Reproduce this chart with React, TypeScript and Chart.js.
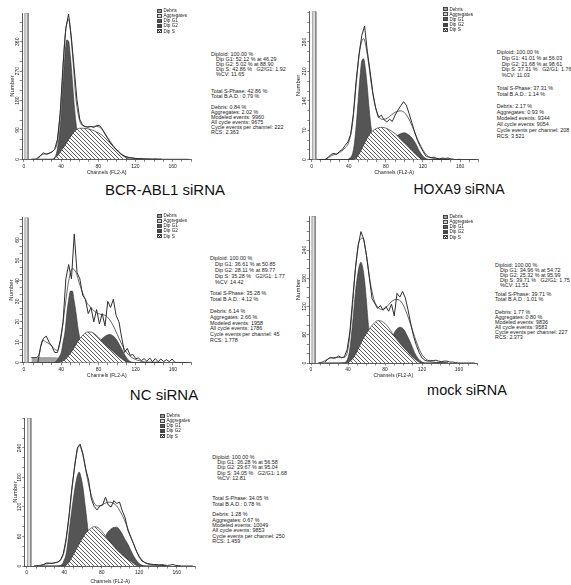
import React, { useEffect, useRef } from "react";
import { Chart, registerables } from "chart.js";
Chart.register(...registerables);

const FONT = "'Liberation Sans', Arial, Helvetica, sans-serif";

// ---------- shared channel grids / tick labels ----------
const histChannels = [15,18,21,24,27,30,33,36,39,42,45,48,51,54,57,60,63,66,69,72,75,78,81,84,87,90,93,96,99,102,105,108,111,114,117,120,123,126,129,132,135,138,141,144,147,150,153,156,159,162,165,168,171,174,177];
const compChannels = [8,12,16,20,24,28,32,36,40,44,48,52,56,60,64,68,72,76,80,84,88,92,96,100,104,108,112,116,120,124,128,132,136,140,144,148];
const g1Channels = [32,34,36,38,40,42,44,46,48,50,52,54,56,58,60,62,64,66,68,70,72];
const xTickLabels = [0, 40, 80, 120, 160];
const gateRange = [1, 4.5];
const legendItems = ["Debris", "Aggregates", "Dip G1", "Dip G2", "Dip S"];

// ---------- BCR-ABL1 siRNA ----------
const histBCR = [2,12,20,15,18,22,30,61,140,286, 400,445,375,280,184,123,105,100,98,101, 97,103,104,94,78,64,50,40,30,24, 15,10,7,5,4,3,2,2,1,1, 1,0,1,0,0,0,0,0,0,0, 0,0,0,0,0];
const modelBCR = [0,0,8,15,17,20,28,55,180,370, 428,330,185,118,102,100,100,101,100,92, 76,58,42,28,17,10,6,4,2,1, 1,0,0,0,0,0];
const sBCR = [0,0,0,0,0,0,2,10,26,42, 60,77,90,95,95,94,91,87,81,74, 63,51,40,28,17,8,2,0,0,0, 0,0,0,0,0,0];
const g2BCR = [0,0,0,0,0,0,0,0,0,0, 0,0,0,0,0,0,0,5,12,20, 24,22,15,8,3,1,0,0,0,0, 0,0,0,0,0,0];
const g1BCR = [3,10,32,74,135,230,315,365,362,315, 245,170,112,70,40,20,9,4,1,0, 0];
const yLabelsBCR = [0, 90, 180, 270, 360];

// ---------- HOXA9 siRNA ----------
const histHOX = [1,6,13,15,12,20,24,34,42,60, 110,190,250,295,318,258,210,158,123,100, 106,95,90,96,91,106,118,128,138,130, 110,88,66,46,32,20,9,6,5,6, 3,2,4,3,4,2,1,0,1,0, 0,0,0,0,0];
const modelHOX = [0,0,2,8,12,15,20,28,42,85, 180,262,288,250,185,132,104,96,97,103, 110,115,116,112,100,82,60,40,23,11, 5,3,2,2,1,1];
const sHOX = [0,0,0,0,0,0,0,0,0,0, 4,17,35,52,65,72,76,77,75,71, 65,58,48,40,31,22,13,5,0,0, 0,0,0,0,0,0];
const g2HOX = [0,0,0,0,0,0,0,0,0,0, 0,0,0,0,0,0,0,5,14,30, 45,57,62,64,60,52,39,21,8,2, 0,0,0,0,0,0];
const g1HOX = [0,0,0,0,2,6,14,38,82,139, 195,235,240,215,172,120,78,50,30,16, 8];
const yLabelsHOX = [0, 70, 140, 210, 280];

// ---------- NC siRNA ----------
const histNC = [0.3,8,12,13,10,8,5,5,11,20, 41,48,41,63,44,41,33,31,24,27, 20,26,19,24,18,30,27,31,23,20, 12,5,7,3.6,4,2,2.3,1,2,0.7, 2.3,0.5,2,0.5,1.8,0.5,1.5,0.5,1.8,0.2, 0,0,0,0,0];
const modelNC = [2.5,2.5,4,11,10,9,7,6,13,27, 40,46,44,38,33,29,27,25,24,23.5, 23,21,18,14,10,6.5,4,2.5,1.5,1, 0.5,0.3,0.3,0.3,0.2,0.2];
const sNC = [0,0,0,0,0,0,0,0,0.5,1.5, 3.5,6,9,11.8,13.8,15,15,14,12.5,10.5, 8.5,7,5.3,3.7,2.2,1,0.2,0,0,0, 0,0,0,0,0,0];
const g2NC = [0,0,0,0,0,0,0,0,0,0, 0,0,0,0,0,0,2,5,9.5,11.8, 13.2,13.8,13,10.8,7.5,4,1.3,0.2,0,0, 0,0,0,0,0,0];
const g1NC = [0,0.5,1.5,3,5,10,15,24,31,35, 35,30,24,17,12,8,5,3,1.5,0.5, 0];
const debrisNC = [2.5,2.5,2.5,2.5,2.5,2.5,2.5,2.3,1.8,1.2, 0.6,0.2,0,0,0,0,0,0,0,0, 0,0,0,0,0,0,0,0,0,0, 0,0,0,0,0,0];
const yLabelsNC = [0, 10, 20, 30, 40, 50, 60];

// ---------- mock siRNA ----------
const histMock = [2,8,12,10,11,15,11,13,28,66, 135,200,249,279,263,228,182,137,126,116, 122,112,120,110,125,100,148,140,152,138, 112,82,56,37,22,11,6,4,5,5, 6,4,3,4,4,2,2,1,0,0, 0,0,0,0,0];
const modelMock = [0,2,6,10,11,12,12,12,30,100, 200,258,265,228,172,135,119,114,116,124, 132,135,133,122,103,80,56,34,18,9, 4,2,1,1,0.5,0];
const sMock = [0,0,0,0,0,0,0,0,1,7, 18,34,50,63,75,84,90,89,84,75, 63,52,42,33,25,16,9,3,0,0, 0,0,0,0,0,0];
const g2Mock = [0,0,0,0,0,0,0,0,0,0, 0,0,0,0,0,0,6,14,25,40, 56,70,76,72,58,41,22,9,2,0, 0,0,0,0,0,0];
const g1Mock = [0,0,0,3,11,30,65,105,150,182, 205,214,202,174,130,82,50,28,14,6, 2];
const yLabelsMock = [0, 60, 120, 180, 240];

// ---------- bottom panel ----------
const histBot = [1,3,6,6,5,7,8,12,25,55, 100,156,200,240,248,228,197,175,136,121, 114,122,124,140,124,120,133,127,130,112, 98,72,58,45,30,18,10,7,5,4, 3,3,2,3,2,1,2,3,1,1, 0,0,0,0,0];
const modelBot = [0,1,2,4,5,6,7,12,30,80, 150,215,245,225,185,150,128,122,124,128, 130,128,122,110,95,75,55,35,20,10, 5,3,2,2,1,1];
const sBot = [0,0,0,0,0,0,0,0,0,5, 17,31,45,58,69,76,80,78,71,61, 51,42,33,26,19,13,8,2,0,0, 0,0,0,0,0,0];
const g2Bot = [0,0,0,0,0,0,0,0,0,0, 0,0,0,0,0,8,16,28,45,61, 72,78,79,71,57,44,28,14,5,1, 0,0,0,0,0,0];
const g1Bot = [0,0,1,4,12,24,50,82,112,140, 165,183,191,180,160,129,96,65,40,22, 10];
const yLabelsBot = [0, 60, 120, 180, 240];

// ---------- statistics texts ----------
const statsBCR = [
  ["Diploid: 100.00 %", "Dip G1: 52.12 % at 46.29", "Dip G2: 5.02 % at 88.90", "Dip S: 42.86 %   G2/G1: 1.92", "%CV: 11.65"],
  ["Total S-Phase: 42.86 %", "Total B.A.D.: 0.79 %"],
  ["Debris: 0.84 %", "Aggregates: 2.02 %", "Modeled events: 9960", "All cycle events: 9675", "Cycle events per channel: 222", "RCS: 2.363"],
];
const statsHOX = [
  ["Diploid: 100.00 %", "Dip G1: 41.01 % at 56.03", "Dip G2: 21.68 % at 98.61", "Dip S: 37.31 %   G2/G1: 1.76", "%CV: 11.03"],
  ["Total S-Phase: 37.31 %", "Total B.A.D.: 1.14 %"],
  ["Debris: 2.17 %", "Aggregates: 0.93 %", "Modeled events: 9344", "All cycle events: 9054", "Cycle events per channel: 208", "RCS: 3.521"],
];
const statsNC = [
  ["Diploid: 100.00 %", "Dip G1: 36.61 % at 50.85", "Dip G2: 28.11 % at 89.77", "Dip S: 35.28 %   G2/G1: 1.77", "%CV: 14.42"],
  ["Total S-Phase: 35.28 %", "Total B.A.D.: 4.12 %"],
  ["Debris: 6.14 %", "Aggregates: 2.66 %", "Modeled events: 1958", "All cycle events: 1786", "Cycle events per channel: 45", "RCS: 1.778"],
];
const statsMock = [
  ["Diploid: 100.00 %", "Dip G1: 34.96 % at 54.72", "Dip G2: 25.32 % at 95.99", "Dip S: 39.71 %   G2/G1: 1.75", "%CV: 11.51"],
  ["Total S-Phase: 39.71 %", "Total B.A.D.: 1.01 %"],
  ["Debris: 1.77 %", "Aggregates: 0.80 %", "Modeled events: 9836", "All cycle events: 9583", "Cycle events per channel: 227", "RCS: 2.373"],
];
const statsBot = [
  ["Diploid: 100.00 %", "Dip G1: 36.28 % at 56.58", "Dip G2: 29.67 % at 95.04", "Dip S: 34.05 %   G2/G1: 1.68", "%CV: 12.81"],
  ["Total S-Phase: 34.05 %", "Total B.A.D.: 0.78 %"],
  ["Debris: 1.28 %", "Aggregates: 0.67 %", "Modeled events: 10049", "All cycle events: 9853", "Cycle events per channel: 250", "RCS: 1.459"],
];

type PanelCfg = {
  left: number; top: number; width: number; height: number;
  padTop: number; padRight: number; yAxisWidth: number; xAxisHeight: number;
  yMax: number; yLabels: number[]; yTitlePad: number; yTickPad: number;
  hist: number[]; model: number[]; sPhase: number[]; g2: number[]; g1: number[]; debris: number[] | null;
  stats: string[][]; statsX: number; statsLH: number; statsTops: number[];
  legendX: number; legendY: number;
  title: string | null; titleX: number; titleY: number; titleSize: number;
};

const panels: PanelCfg[] = [
  { left: 0, top: 0, width: 200, height: 176, padTop: 13, padRight: 8.8, yAxisWidth: 22.1, xAxisHeight: 16.7,
    yMax: 448, yLabels: yLabelsBCR, yTitlePad: 8.4, yTickPad: -1.9,
    hist: histBCR, model: modelBCR, sPhase: sBCR, g2: g2BCR, g1: g1BCR, debris: null,
    stats: statsBCR, statsX: 211, statsLH: 5.0, statsTops: [54, 91.7, 107.7],
    legendX: 157, legendY: 10.7, title: "BCR-ABL1 siRNA", titleX: 165, titleY: 190, titleSize: 15 },
  { left: 290, top: 0, width: 200, height: 176, padTop: 11.3, padRight: 11.4, yAxisWidth: 19.85, xAxisHeight: 16.3,
    yMax: 353, yLabels: yLabelsHOX, yTitlePad: 4.7, yTickPad: -1.9,
    hist: histHOX, model: modelHOX, sPhase: sHOX, g2: g2HOX, g1: g1HOX, debris: null,
    stats: statsHOX, statsX: 496.7, statsLH: 5.9, statsTops: [52.7, 89.3, 107.3],
    legendX: 443, legendY: 9.3, title: "HOXA9 siRNA", titleX: 459, titleY: 189.5, titleSize: 14 },
  { left: 0, top: 200, width: 200, height: 179, padTop: 17.5, padRight: 8.4, yAxisWidth: 22.1, xAxisHeight: 16.3,
    yMax: 71, yLabels: yLabelsNC, yTitlePad: 8.1, yTickPad: -0.5,
    hist: histNC, model: modelNC, sPhase: sNC, g2: g2NC, g1: g1NC, debris: debrisNC,
    stats: statsNC, statsX: 210, statsLH: 5.9, statsTops: [259.3, 294.3, 311.7],
    legendX: 157, legendY: 215.7, title: "NC siRNA", titleX: 164, titleY: 395, titleSize: 15 },
  { left: 290, top: 200, width: 200, height: 179, padTop: 16.1, padRight: 12.5, yAxisWidth: 19.15, xAxisHeight: 16,
    yMax: 312, yLabels: yLabelsMock, yTitlePad: 4.7, yTickPad: -1.9,
    hist: histMock, model: modelMock, sPhase: sMock, g2: g2Mock, g1: g1Mock, debris: null,
    stats: statsMock, statsX: 495, statsLH: 5.0, statsTops: [265.7, 294.3, 312.3],
    legendX: 443, legendY: 216.7, title: "mock siRNA", titleX: 467, titleY: 391, titleSize: 14.5 },
  { left: 0, top: 400, width: 205, height: 185, padTop: 18, padRight: 9.5, yAxisWidth: 24.8, xAxisHeight: 19,
    yMax: 301, yLabels: yLabelsBot, yTitlePad: 11.4, yTickPad: -1.9,
    hist: histBot, model: modelBot, sPhase: sBot, g2: g2Bot, g1: g1Bot, debris: null,
    stats: statsBot, statsX: 212.3, statsLH: 5.3, statsTops: [457.3, 499, 515],
    legendX: 160, legendY: 415.7, title: null, titleX: 0, titleY: 0, titleSize: 15 },
];

function makeHatch(): CanvasPattern | string {
  const c = document.createElement("canvas");
  c.width = 4; c.height = 4;
  const ctx = c.getContext("2d");
  if (!ctx) return "#fff";
  ctx.fillStyle = "#fff";
  ctx.fillRect(0, 0, 4, 4);
  ctx.strokeStyle = "#333";
  ctx.lineWidth = 0.8;
  ctx.beginPath();
  ctx.moveTo(-1, -1); ctx.lineTo(5, 5);
  ctx.moveTo(-1, 3); ctx.lineTo(1, 5);
  ctx.moveTo(3, -1); ctx.lineTo(5, 1);
  ctx.stroke();
  return ctx.createPattern(c, "repeat") ?? "#fff";
}

function Panel({ cfg }: { cfg: PanelCfg }) {
  const ref = useRef<HTMLCanvasElement>(null);
  useEffect(() => {
    const canvas = ref.current;
    if (!canvas) return;
    const pts = (xs: number[], ys: number[]) => xs.map((x, i) => ({ x, y: ys[i] }));
    const hatch = makeHatch();
    const major = cfg.yLabels[1] - cfg.yLabels[0];
    const yTicks: number[] = [];
    for (let i = 0; (i * major) / 3 <= cfg.yMax + 1e-6; i++) yTicks.push((i * major) / 3);
    const xTicks: number[] = [];
    for (let v = 0; v <= 180; v += 10) xTicks.push(v);

    const datasets: any[] = [
      { label: "raw", data: pts(histChannels, cfg.hist), borderColor: "#2e2e2e", borderWidth: 1, pointRadius: 0, tension: 0, fill: false },
      { label: "model", data: pts(compChannels, cfg.model), borderColor: "#222", borderWidth: 0.7, pointRadius: 0, cubicInterpolationMode: "monotone", fill: false },
      { label: "Dip S", data: pts(compChannels, cfg.sPhase), borderColor: "#333", borderWidth: 0.7, backgroundColor: hatch, pointRadius: 0, cubicInterpolationMode: "monotone", fill: "origin" },
      { label: "Dip G2", data: pts(compChannels, cfg.g2), borderColor: "#333", borderWidth: 0.6, backgroundColor: "#555", pointRadius: 0, cubicInterpolationMode: "monotone", fill: "origin" },
      { label: "Dip G1", data: pts(g1Channels, cfg.g1), borderColor: "#333", borderWidth: 0.6, backgroundColor: "#555", pointRadius: 0, cubicInterpolationMode: "monotone", fill: "origin" },
    ];
    if (cfg.debris) {
      datasets.push({ label: "Debris", data: pts(compChannels, cfg.debris), borderColor: "#777", borderWidth: 0.5, backgroundColor: "#a3a3a3", pointRadius: 0, tension: 0, fill: "origin" });
    }
    datasets.push({
      label: "gate",
      data: [{ x: gateRange[0], y: 0 }, { x: gateRange[0], y: cfg.yMax }, { x: gateRange[1], y: cfg.yMax }, { x: gateRange[1], y: 0 }],
      borderColor: "#777", borderWidth: 0.7, backgroundColor: "#dedede", pointRadius: 0, tension: 0, fill: "origin",
    });

    const chart = new Chart(canvas, {
      type: "line",
      data: { datasets },
      options: {
        animation: false,
        responsive: false,
        maintainAspectRatio: false,
        events: [],
        layout: { padding: { top: cfg.padTop, right: cfg.padRight, left: 0, bottom: 0 } },
        plugins: { legend: { display: false }, tooltip: { enabled: false } },
        scales: {
          x: {
            type: "linear", min: -2, max: 180,
            afterBuildTicks: (s: any) => { s.ticks = xTicks.map((v) => ({ value: v })); },
            afterFit: (s: any) => { s.height = cfg.xAxisHeight; },
            ticks: {
              autoSkip: false, maxRotation: 0, minRotation: 0, padding: 1.5, color: "#222",
              font: { family: FONT, size: 5 },
              callback: (v: any) => (xTickLabels.includes(Number(v)) ? String(v) : ""),
            },
            grid: { display: true, drawOnChartArea: false, drawTicks: true, tickLength: 2.5, color: "#333", lineWidth: 0.6 },
            border: { display: true, color: "#333", width: 0.8 },
            title: { display: true, text: "Channels (FL2-A)", color: "#222", font: { family: FONT, size: 5 }, padding: { top: 0, bottom: 0 } },
          },
          y: {
            type: "linear", min: 0, max: cfg.yMax,
            afterBuildTicks: (s: any) => { s.ticks = yTicks.map((v) => ({ value: v })); },
            afterFit: (s: any) => { s.width = cfg.yAxisWidth; },
            ticks: {
              autoSkip: false, minRotation: 90, maxRotation: 90, crossAlign: "center", padding: cfg.yTickPad, color: "#222",
              font: { family: FONT, size: 5 },
              callback: (v: any) => {
                const hit = cfg.yLabels.find((l) => Math.abs(l - Number(v)) < 1e-6);
                return hit === undefined ? "" : String(hit);
              },
            },
            grid: { display: true, drawOnChartArea: false, drawTicks: true, tickLength: 2.5, color: "#333", lineWidth: 0.6 },
            border: { display: true, color: "#333", width: 0.8 },
            title: { display: true, text: "Number", color: "#222", font: { family: FONT, size: 6 }, padding: { top: cfg.yTitlePad, bottom: 0 } },
          },
        },
      } as any,
    });
    return () => chart.destroy();
  }, [cfg]);
  return (
    <canvas
      ref={ref}
      width={cfg.width}
      height={cfg.height}
      style={{ position: "absolute", left: cfg.left, top: cfg.top, width: cfg.width, height: cfg.height }}
    />
  );
}

function Stats({ cfg }: { cfg: PanelCfg }) {
  return (
    <>
      {cfg.stats.map((group, gi) => (
        <div
          key={gi}
          style={{
            position: "absolute", left: cfg.statsX, top: cfg.statsTops[gi] - cfg.statsLH / 2,
            fontSize: 5.4, lineHeight: cfg.statsLH + "px", whiteSpace: "pre", color: "#1a1a1a", fontFamily: FONT,
          }}
        >
          {group.map((line, li) => (
            <div key={li} style={{ paddingLeft: gi === 0 && li > 0 ? 5 : 0, height: cfg.statsLH }}>{line}</div>
          ))}
        </div>
      ))}
    </>
  );
}

function Legend({ cfg }: { cfg: PanelCfg }) {
  const fills: Record<string, string> = {
    Debris: "#9b9b9b",
    Aggregates: "#d2d2d2",
    "Dip G1": "#555",
    "Dip G2": "#444",
    "Dip S": "repeating-linear-gradient(45deg, #fff 0px, #fff 1.1px, #333 1.1px, #333 1.7px)",
  };
  return (
    <>
      {legendItems.map((name, i) => (
        <div key={name} style={{ position: "absolute", left: cfg.legendX, top: cfg.legendY + i * 5.1 - 2.55, height: 5.1, display: "flex", alignItems: "center" }}>
          <div style={{ width: 5, height: 4, boxSizing: "border-box", border: "0.5px solid #444", background: fills[name] }} />
          <div style={{ marginLeft: 1.5, fontSize: 4.6, lineHeight: "5.1px", color: "#222", fontFamily: FONT, whiteSpace: "pre" }}>{name}</div>
        </div>
      ))}
    </>
  );
}

export default function App() {
  return (
    <div style={{ position: "absolute", left: 0, top: 0, width: 571, height: 585, background: "#fff", overflow: "hidden" }}>
      {panels.map((p, i) => (
        <React.Fragment key={i}>
          <Panel cfg={p} />
          <Stats cfg={p} />
          <Legend cfg={p} />
          {p.title && (
            <div
              style={{
                position: "absolute", left: p.titleX - 100, top: p.titleY - p.titleSize * 0.6, width: 200,
                textAlign: "center", fontFamily: FONT, fontSize: p.titleSize, lineHeight: p.titleSize * 1.2 + "px", color: "#111", whiteSpace: "nowrap",
              }}
            >
              {p.title}
            </div>
          )}
        </React.Fragment>
      ))}
    </div>
  );
}
